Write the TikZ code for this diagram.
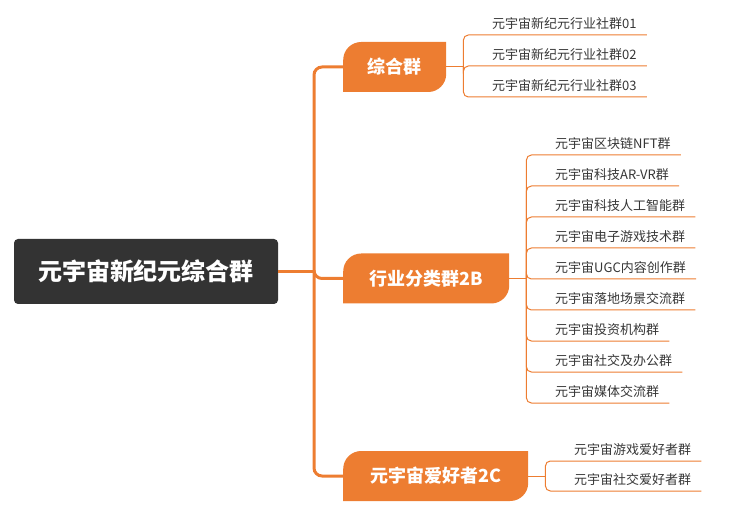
\documentclass[tikz,border=0pt]{standalone}
\usepackage{fontspec}
\setmainfont{Noto Sans CJK SC}
\definecolor{mmorange}{HTML}{ED7D31}
\definecolor{rootgray}{HTML}{333333}
\definecolor{leaftext}{HTML}{363636}

\begin{document}
\begin{tikzpicture}[x=1pt, y=1pt,
  root/.style={fill=rootgray, rounded corners=4pt, text=white, font=\bfseries\fontsize{24}{27}\selectfont, minimum width=264pt, minimum height=65pt},
  branch/.style={anchor=west, fill=white, text=white, inner xsep=24pt, minimum height=50pt, font=\bfseries\fontsize{18}{20}\selectfont,
    path picture={\fill[mmorange] (path picture bounding box.south west) -- ([yshift=-18pt]path picture bounding box.north west) arc[start angle=180, end angle=90, radius=18pt] -- (path picture bounding box.north east) -- ([yshift=18pt]path picture bounding box.south east) arc[start angle=0, end angle=-90, radius=18pt] -- cycle;}},
  leaf/.style={anchor=south west, inner xsep=0pt, inner ysep=4pt, text height=10pt, text depth=2pt, text=leaftext, font=\fontsize{13}{15}\selectfont},
  trunk/.style={draw=mmorange, line width=3pt, rounded corners=8pt},
  twig/.style={draw=mmorange, line width=1pt, rounded corners=5pt}
]
\useasboundingbox (0,0) rectangle (732,-524);

% Zentrale
\node[root] (R) at (146,-271.5) {元宇宙新纪元综合群};

% Gruppen
\node[branch, minimum width=103pt] (g1) at (343,-67) {综合群};
\node[branch, minimum width=166pt] (g2) at (343,-278.5) {行业分类群2B};
\node[branch, minimum width=185pt] (g3) at (343,-476) {元宇宙爱好者2C};

% Stamm
\coordinate (jn) at (314,-271.5);
\draw[trunk] (R.east) -- (jn);
\draw[trunk] (jn) |- (g1.west);
\draw[trunk] (jn) |- (g2.west);
\draw[trunk] (jn) |- (g3.west);

% Verzweigungen
\coordinate (j1) at ([xshift=17pt]g1.east);
\coordinate (j2) at ([xshift=17pt]g2.east);
\coordinate (j3) at ([xshift=17pt]g3.east);
\draw[twig] (g1.east) -- (j1);
\draw[twig] (g2.east) -- (j2);
\draw[twig] (g3.east) -- (j3);

% Untergruppen
\foreach \t [count=\i] in {元宇宙新纪元行业社群01, 元宇宙新纪元行业社群02, 元宇宙新纪元行业社群03} {
  \node[leaf] (la\i) at (492,{-35-31*(\i-1)}) {\t};
  \draw[twig] (j1) |- (la\i.south west) -- ([xshift=10pt]la\i.south east);
}
\foreach \t [count=\i] in {元宇宙区块链NFT群, 元宇宙科技AR-VR群, 元宇宙科技人工智能群, 元宇宙电子游戏技术群, 元宇宙UGC内容创作群, 元宇宙落地场景交流群, 元宇宙投资机构群, 元宇宙社交及办公群, 元宇宙媒体交流群} {
  \node[leaf] (lb\i) at (555,{-155-31*(\i-1)}) {\t};
  \draw[twig] (j2) |- (lb\i.south west) -- ([xshift=10pt]lb\i.south east);
}
\foreach \t [count=\i] in {元宇宙游戏爱好者群, 元宇宙社交爱好者群} {
  \node[leaf] (lc\i) at (574,{-461-30*(\i-1)}) {\t};
  \draw[twig] (j3) |- (lc\i.south west) -- ([xshift=10pt]lc\i.south east);
}
\end{tikzpicture}
\end{document}
